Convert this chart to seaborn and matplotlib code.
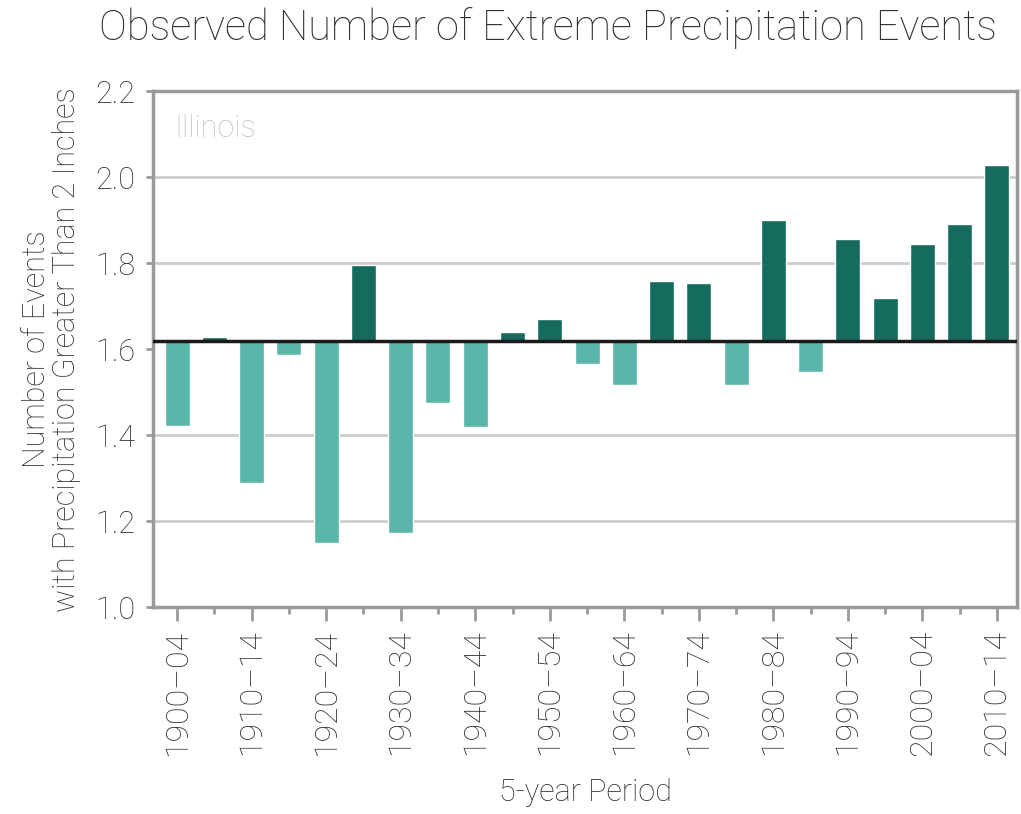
import pandas as pd
import numpy as np
import matplotlib.pyplot as plt
import seaborn as sns

# ============================================================
# Data
# ============================================================

periods = ['1900\u201304', '1905\u201309', '1910\u201314', '1915\u201319', '1920\u201324',
           '1925\u201329', '1930\u201334', '1935\u201339', '1940\u201344', '1945\u201349',
           '1950\u201354', '1955\u201359', '1960\u201364', '1965\u201369', '1970\u201374',
           '1975\u201379', '1980\u201384', '1985\u201389', '1990\u201394', '1995\u201399',
           '2000\u201304', '2005\u201309', '2010\u201314']
events = [1.422, 1.629, 1.290, 1.587, 1.150, 1.795, 1.172, 1.474, 1.418, 1.640,
          1.671, 1.565, 1.516, 1.758, 1.754, 1.516, 1.901, 1.546, 1.856, 1.720,
          1.844, 1.890, 2.029]
baseline = 1.62
y_ticks = [1.0, 1.2, 1.4, 1.6, 1.8, 2.0, 2.2]

DARK = '#146b5e'
LIGHT = '#5bb6aa'
GRAY = '#9a9a9a'
TEXT = '#2e2e2e'

df = pd.DataFrame({'period': periods, 'events': events})
df['delta'] = df['events'] - baseline
df['side'] = np.where(df['delta'] >= 0, 'above', 'below')

# ============================================================
# Plot
# ============================================================

sns.set_theme(style='white')
plt.rcParams['font.family'] = ['Roboto', 'DejaVu Sans']
plt.rcParams['font.weight'] = 'light'

fig = plt.figure(figsize=(10.21, 8.14), dpi=100)
ax = fig.add_axes([0.150, 0.254, 0.846, 0.634])

for y in [1.2, 1.4, 1.8, 2.0]:
    ax.axhline(y, color='#cccccc', linewidth=2, zorder=0)

sns.barplot(data=df, x='period', y='delta', hue='side', order=periods,
            palette={'above': DARK, 'below': LIGHT}, dodge=False, legend=False,
            width=0.67, bottom=baseline, saturation=1, ax=ax, zorder=2)

ax.axhline(baseline, color='#1a1a1a', linewidth=2.5, zorder=3)

ax.set_ylim(1.0, 2.2)
ax.set_xlim(-0.644, len(periods) - 1 + 0.537)
ax.set_yticks(y_ticks)
ax.set_yticklabels([f'{v:.1f}' for v in y_ticks], fontsize=22, color=TEXT)

major = list(range(0, len(periods), 2))
minor = list(range(1, len(periods), 2))
ax.set_xticks(major)
ax.set_xticklabels([periods[i] for i in major], rotation=90, fontsize=23, color=TEXT)
ax.set_xticks(minor, minor=True)
ax.tick_params(axis='x', which='major', direction='out', length=10, width=2, color=GRAY, bottom=True, pad=6)
ax.tick_params(axis='x', which='minor', direction='out', length=5, width=2, color=GRAY, bottom=True)
ax.tick_params(axis='y', direction='out', length=5, width=2, color=GRAY, left=True, pad=8)

for s in ax.spines.values():
    s.set_color(GRAY)
    s.set_linewidth(2.5)

ax.set_xlabel('5-year Period', fontsize=22, color=TEXT, fontweight='light')
ax.xaxis.set_label_coords(0.5, -0.331)
ax.set_ylabel('Number of Events\nwith Precipitation Greater Than 2 Inches',
              fontsize=22, color=TEXT, fontweight='light', linespacing=1.05)
ax.yaxis.set_label_coords(-0.083, 0.5)

ax.text(0.025, 0.955, 'Illinois', transform=ax.transAxes, fontsize=22,
        color='#c4c4c4', ha='left', va='top')

fig.text(0.537, 0.965, 'Observed Number of Extreme Precipitation Events',
         ha='center', va='center', fontsize=30, color=TEXT)

fig.savefig('out.png', dpi=100)
